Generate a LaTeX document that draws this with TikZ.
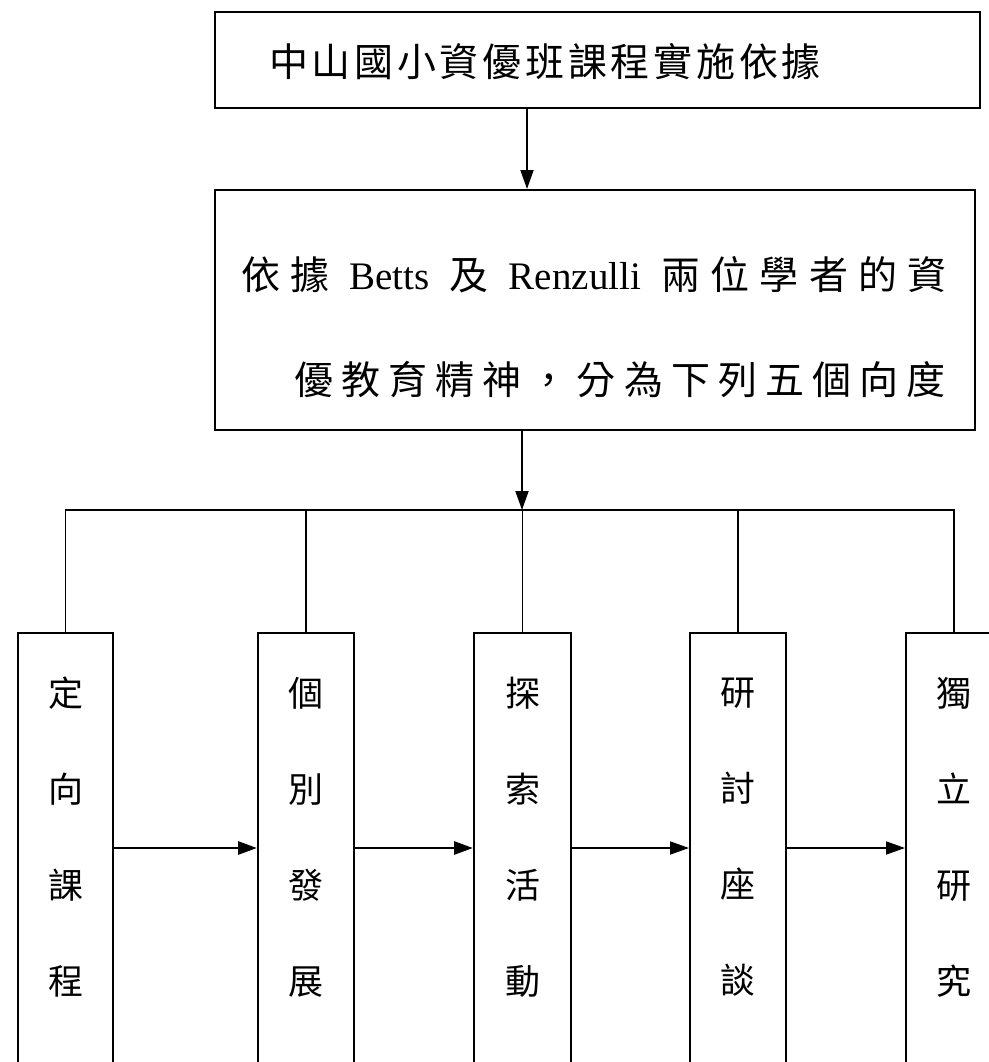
\documentclass[tikz,border=0pt]{standalone}
\usepackage{fontspec}
\setmainfont{Liberation Serif}
\newfontfamily\cjk{Noto Sans CJK TC}
\usetikzlibrary{arrows.meta}
\newcommand\gp{\hfill}
\begin{document}
\begin{tikzpicture}[x=0.5pt,y=-0.5pt,
  box/.style={draw, line width=1pt, inner sep=0pt, rectangle},
  conn/.style={line width=0.9pt},
  arr/.style={conn, -{Triangle[length=9.5pt,width=6.5pt]}},
  big/.style={font=\fontsize{19.5}{22}\selectfont, inner sep=0pt},
  col/.style={font=\cjk\fontsize{17.5}{48}\selectfont, align=center, inner sep=0pt}]
\useasboundingbox (0,0) rectangle (989,1062);
\clip (0,0) rectangle (989,1062);
% top boxes
\node[box, minimum width=382.5pt, minimum height=48pt] (top) at (597.5,60) {};
\node[big] (title) at (545,62) {\cjk\makebox[276pt][s]{中\gp{}山\gp{}國\gp{}小\gp{}資\gp{}優\gp{}班\gp{}課\gp{}程\gp{}實\gp{}施\gp{}依\gp{}據}};
\node[box, minimum width=380pt, minimum height=120pt] (mid) at (595,310) {};
\node[big] (l1) at (594,275) {\makebox[353pt][s]{{\cjk 依\gp{}據}\gp\ Betts\ \gp{\cjk 及}\gp\ Renzulli\ \gp{\cjk 兩\gp{}位\gp{}學\gp{}者\gp{}的\gp{}資}}};
\node[big] (l2) at (620,380) {\cjk\makebox[326pt][s]{優\gp{}教\gp{}育\gp{}精\gp{}神\gp{}，\gp{}分\gp{}為\gp{}下\gp{}列\gp{}五\gp{}個\gp{}向\gp{}度}};
% column boxes
\node[box, minimum width=47.5pt, minimum height=240pt, anchor=north west] (b1) at (17,632) {};
\node[box, minimum width=48pt, minimum height=240pt, anchor=north west] (b2) at (257,632) {};
\node[box, minimum width=48.5pt, minimum height=240pt, anchor=north west] (b3) at (473,632) {};
\node[box, minimum width=48pt, minimum height=240pt, anchor=north west] (b4) at (689,632) {};
\node[box, minimum width=48pt, minimum height=240pt, anchor=north west] (b5) at (905,632) {};
\coordinate (colc) at (0,837);
\node[col] (t1) at (b1.north |- colc) {定\\向\\課\\程};
\node[col] (t2) at (b2.north |- colc) {個\\別\\發\\展};
\node[col] (t3) at (b3.north |- colc) {探\\索\\活\\動};
\node[col] (t4) at (b4.north |- colc) {研\\討\\座\\談};
\node[col] (t5) at (b5.north |- colc) {獨\\立\\研\\究};
% connectors
\coordinate (a1) at (527,0);
\draw[arr] (top.south -| a1) -- (mid.north -| a1);
\coordinate (bus) at (522,510);
\draw[arr] (mid.south -| bus) -- (bus);
\draw[conn] (b1.north) -- (b1.north |- bus) -- (b5.north |- bus) -- (b5.north);
\foreach \b in {b2,b3,b4} \draw[conn] (\b.north) -- (\b.north |- bus);
\coordinate (h) at (0,848);
\draw[arr, line width=1.4pt] (b1.east |- h) -- (b2.west |- h);
\draw[arr, line width=1.4pt] (b2.east |- h) -- (b3.west |- h);
\draw[arr] (b3.east |- h) -- (b4.west |- h);
\draw[arr] (b4.east |- h) -- (b5.west |- h);
\end{tikzpicture}
\end{document}
